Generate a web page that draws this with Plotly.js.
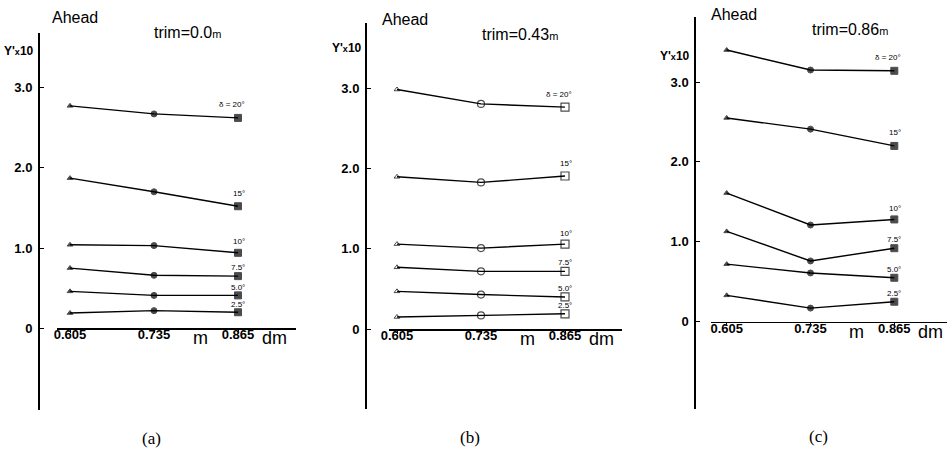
<!DOCTYPE html>
<html>
<head>
<meta charset="utf-8">
<script src="https://cdn.plot.ly/plotly-3.0.1.min.js"></script>
<style>html,body{margin:0;padding:0;background:#fff;}#chart{width:948px;height:452px;}</style>
</head>
<body>
<div id="chart"></div>
<script>
// ---- data ----
var draftValues = [0.605, 0.735, 0.865];
var draftTickText = ['0.605', '0.735', '0.865'];
var rudderAngles = [20, 15, 10, 7.5, 5.0, 2.5];
var angleLabels = ['δ = 20°', '15°', '10°', '7.5°', '5.0°', '2.5°'];
var yTickVals = [0, 1, 2, 3];
var yTickText = ['0', '1.0', '2.0', '3.0'];
var panelTitles = ['trim=0.0', 'trim=0.43', 'trim=0.86'];
var panelLetters = ['(a)', '(b)', '(c)'];
// Y' x10 for each rudder angle (rows) at draft 0.605, 0.735, 0.865
var trim000 = [
  [2.77, 2.67, 2.62],
  [1.87, 1.70, 1.52],
  [1.04, 1.03, 0.94],
  [0.75, 0.66, 0.65],
  [0.46, 0.41, 0.41],
  [0.19, 0.22, 0.20]
];
var trim043 = [
  [2.99, 2.81, 2.77],
  [1.90, 1.83, 1.91],
  [1.06, 1.01, 1.06],
  [0.77, 0.72, 0.72],
  [0.47, 0.43, 0.40],
  [0.15, 0.17, 0.19]
];
var trim086 = [
  [3.40, 3.15, 3.14],
  [2.55, 2.41, 2.20],
  [1.61, 1.21, 1.28],
  [1.13, 0.76, 0.92],
  [0.72, 0.61, 0.55],
  [0.33, 0.17, 0.25]
];
var panelData = [trim000, trim043, trim086];

// ---- layout geometry (pixels) ----
var W = 948, H = 452;
var labelLift = [13, 13, 11, 9, 8, 8];
var geom = [
  {yLine: 38,    yTop: 33, yBot: 410, zero: 328.3, unit: 80.3, xd0: 57,    xd1: 296, t1: 70,    t2: 238,
   ahead: [75, 17], trim: [187, 33], ylab: [19, 51], letter: [151, 438]},
  {yLine: 365,   yTop: 23, yBot: 409, zero: 329,   unit: 80.1, xd0: 389,   xd1: 622, t1: 397,   t2: 565,
   ahead: [405, 19], trim: [520, 35], ylab: [347, 48], letter: [470, 437]},
  {yLine: 694.3, yTop: 17, yBot: 409, zero: 321.7, unit: 79.9, xd0: 710.7, xd1: 947, t1: 726.7, t2: 894.3,
   ahead: [734, 14], trim: [850, 30], ylab: [675, 56], letter: [818, 436]}
];
var markerStyles = [
  {symbols: ['triangle-up', 'circle', 'square'], lw: [1, 1, 1], sizes: [5, 6, 7]},
  {symbols: ['triangle-up-open', 'circle-open', 'square-open'], lw: [1, 1.2, 1.2], sizes: [5, 7, 8]},
  {symbols: ['triangle-up', 'circle', 'square'], lw: [1, 1, 1], sizes: [5, 6, 7]}
];

var FONT = 'Liberation Sans, Arial, sans-serif';
var traces = [];
var layout = {
  width: W, height: H,
  margin: {l: 0, r: 0, t: 0, b: 0},
  paper_bgcolor: '#fff', plot_bgcolor: 'rgba(0,0,0,0)',
  showlegend: false,
  font: {family: FONT, color: '#000'},
  annotations: []
};

function px2x(p) { return p / W; }
function py2y(p) { return 1 - p / H; }

geom.forEach(function (g, i) {
  var n = i + 1;
  var xk = 'xaxis' + (n === 1 ? '' : n), yk = 'yaxis' + (n === 1 ? '' : n);
  var xr = 'x' + (n === 1 ? '' : n), yr = 'y' + (n === 1 ? '' : n);
  var x0 = draftValues[0], x2 = draftValues[2];
  var scale = (g.t2 - g.t1) / (x2 - x0);
  layout[xk] = {
    domain: [px2x(g.xd0), px2x(g.xd1)],
    range: [x0 - (g.t1 - g.xd0) / scale, x2 + (g.xd1 - g.t2) / scale],
    anchor: 'free', position: py2y(g.zero),
    showline: true, linecolor: '#000', linewidth: 1.5,
    showgrid: false, zeroline: false,
    tickmode: 'array', tickvals: draftValues, ticktext: draftTickText,
    ticks: 'outside', ticklen: 3, tickcolor: '#000', tickwidth: 1,
    ticklabelstandoff: -9,
    tickfont: {size: 13, family: FONT, color: '#000', weight: 'bold'},
    fixedrange: true
  };
  layout[yk] = {
    domain: [py2y(g.yBot), py2y(g.yTop)],
    range: [(g.zero - g.yBot) / g.unit, (g.zero - g.yTop) / g.unit],
    anchor: 'free', position: px2x(g.yLine),
    showline: true, linecolor: '#000', linewidth: 1.5,
    showgrid: false, zeroline: false,
    tickmode: 'array', tickvals: yTickVals, ticktext: yTickText,
    ticks: 'inside', ticklen: 4, tickcolor: '#000', tickwidth: 1,
    ticklabelstandoff: 3,
    tickfont: {size: 13, family: FONT, color: '#000', weight: 'bold'},
    fixedrange: true
  };

  var ms = markerStyles[i];
  panelData[i].forEach(function (row, j) {
    traces.push({
      type: 'scatter', mode: 'lines+markers',
      x: draftValues, y: row,
      xaxis: xr, yaxis: yr,
      line: {color: '#000', width: 1.4},
      marker: {symbol: ms.symbols, size: ms.sizes, color: '#000',
               line: {color: '#000', width: ms.lw}},
      hoverinfo: 'skip', cliponaxis: false
    });
    layout.annotations.push({
      xref: xr, yref: yr, x: draftValues[2], y: row[2],
      text: angleLabels[j], showarrow: false,
      xanchor: 'right', yanchor: 'middle', xshift: 9, yshift: labelLift[j],
      font: {size: 8, family: FONT, color: '#000'}
    });
  });

  // panel texts
  layout.annotations.push({
    xref: 'paper', yref: 'paper', x: px2x(g.ahead[0]), y: py2y(g.ahead[1]),
    text: 'Ahead', showarrow: false, xanchor: 'center', yanchor: 'middle',
    font: {size: 16, color: '#000'}
  });
  layout.annotations.push({
    xref: 'paper', yref: 'paper', x: px2x(g.trim[0]), y: py2y(g.trim[1]),
    text: panelTitles[i] + '<span style="font-size:11px">m</span>', showarrow: false,
    xanchor: 'center', yanchor: 'middle',
    font: {size: 16, color: '#000'}
  });
  layout.annotations.push({
    xref: 'paper', yref: 'paper', x: px2x(g.ylab[0]), y: py2y(g.ylab[1]),
    text: "<b>Y'<span style=\"font-size:9px\">x</span>10</b>", showarrow: false,
    xanchor: 'center', yanchor: 'middle',
    font: {size: 12, color: '#000'}
  });
  layout.annotations.push({
    xref: 'paper', yref: 'paper', x: px2x(g.letter[0]), y: py2y(g.letter[1]),
    text: panelLetters[i], showarrow: false, xanchor: 'center', yanchor: 'middle',
    font: {size: 17, family: 'Liberation Serif, DejaVu Serif, serif', color: '#000'}
  });
  // axis unit labels 'm' and 'dm'
  layout.annotations.push({
    xref: xr, yref: 'paper', x: draftValues[1], y: py2y(g.zero + 10),
    text: 'm', showarrow: false, xanchor: 'center', yanchor: 'middle',
    xshift: (g.t2 - g.t1) / 2 * 0.55,
    font: {size: 18, color: '#000'}
  });
  layout.annotations.push({
    xref: xr, yref: 'paper', x: draftValues[2], y: py2y(g.zero + 10),
    text: 'dm', showarrow: false, xanchor: 'left', yanchor: 'middle',
    xshift: 22,
    font: {size: 18, color: '#000'}
  });
});

Plotly.newPlot('chart', traces, layout, {staticPlot: true, displayModeBar: false});
</script>
</body>
</html>
